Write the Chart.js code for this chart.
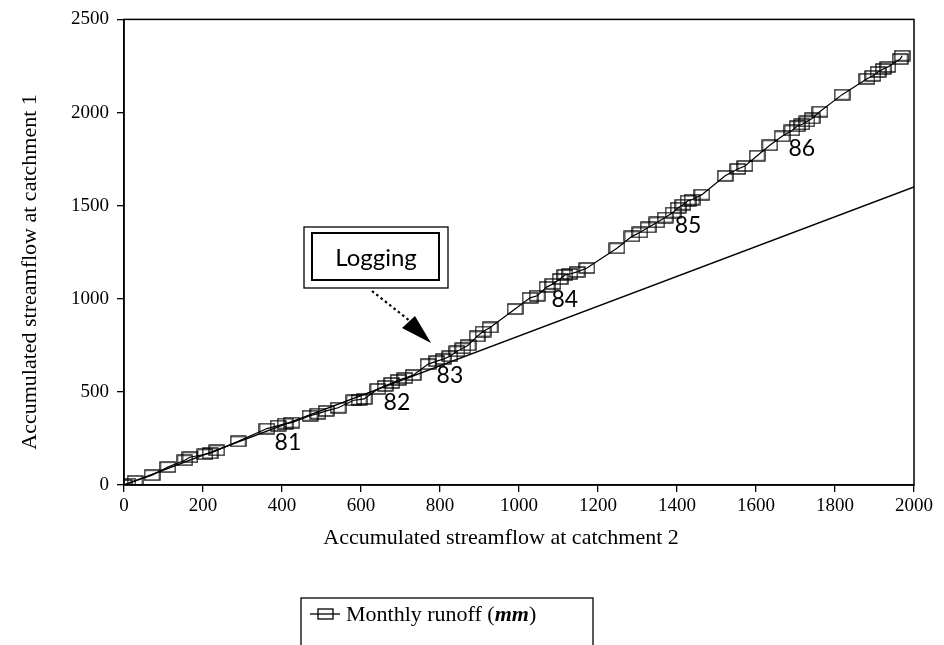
<!DOCTYPE html>
<html>
<head>
<meta charset="utf-8">
<script src="https://cdn.jsdelivr.net/npm/chart.js@4/dist/chart.umd.min.js"></script>
<style>
  html, body { margin: 0; padding: 0; background: #fff; }
  #wrap { width: 944px; height: 645px; }
</style>
</head>
<body>
<div id="wrap"><canvas id="massCurve"></canvas></div>
<script>
// accumulated monthly runoff, catchment 2 (x) vs catchment 1 (y), mm
const runoffX = [0, 10, 28, 71, 111, 154, 167, 205, 218, 235, 289, 362, 390, 408, 425, 471, 491, 512,
  542, 582, 595, 608, 643, 661, 678, 694, 711, 732, 770, 792, 808, 825, 843, 858, 871, 894, 909, 927,
  990, 1028, 1046, 1071, 1086, 1104, 1116, 1129, 1147, 1172, 1248, 1286, 1306, 1327, 1349, 1370, 1390,
  1403, 1415, 1428, 1438, 1463, 1522, 1554, 1572, 1603, 1635, 1666, 1691, 1704, 1716, 1729, 1742, 1762,
  1818, 1881, 1896, 1909, 1922, 1934, 1965, 1970];
const runoffY = [0, 8, 22, 53, 96, 133, 149, 165, 170, 186, 234, 303, 319, 330, 335, 372, 383, 398,
  415, 455, 458, 462, 516, 532, 548, 564, 574, 590, 649, 665, 676, 691, 718, 734, 750, 798, 824, 846,
  945, 1005, 1016, 1064, 1080, 1106, 1128, 1133, 1144, 1165, 1271, 1335, 1356, 1383, 1410, 1436, 1463,
  1489, 1505, 1527, 1532, 1559, 1660, 1697, 1713, 1768, 1824, 1872, 1904, 1926, 1936, 1952, 1968, 2005,
  2096, 2181, 2197, 2218, 2234, 2245, 2287, 2305];

// pre-logging relation
const lineX = [0, 2000];
const lineY = [0, 1600];

// year marks
const yearLabels = ['81', '82', '83', '84', '85', '86'];
const yearX = [415, 691, 825, 1116, 1428, 1716];
const yearY = [230, 440, 585, 995, 1394, 1809];

const xTicks = [0, 200, 400, 600, 800, 1000, 1200, 1400, 1600, 1800, 2000];
const yTicks = [0, 500, 1000, 1500, 2000, 2500];

const xTitle = 'Accumulated streamflow at catchment 2';
const yTitle = 'Accumulated streamflow at catchment 1';
const seriesName = 'Monthly runoff';

// hollow rectangle marker
const mark = document.createElement('canvas');
mark.width = 17;
mark.height = 12;
const mctx = mark.getContext('2d');
mctx.strokeStyle = '#000';
mctx.lineWidth = 1.3;
mctx.strokeRect(1, 1, 15, 10);

const serif = '"Liberation Serif", "DejaVu Serif", serif';
const sans = 'Lato, "Open Sans", sans-serif';

const extras = {
  id: 'extras',
  afterDraw(chart) {
    const ctx = chart.ctx;
    const a = chart.chartArea;
    const sx = chart.scales.x, sy = chart.scales.y;
    ctx.save();
    ctx.fillStyle = '#000';
    ctx.strokeStyle = '#000';

    // frame
    ctx.lineWidth = 1.5;
    ctx.strokeRect(a.left, a.top, a.right - a.left, a.bottom - a.top);

    // year labels
    ctx.font = '23px ' + sans;
    ctx.textAlign = 'center';
    ctx.textBaseline = 'middle';
    yearLabels.forEach((t, i) => {
      ctx.fillText(t, sx.getPixelForValue(yearX[i]), sy.getPixelForValue(yearY[i]));
    });

    // callout
    ctx.lineWidth = 1.3;
    ctx.strokeRect(304, 227, 144, 61);
    ctx.lineWidth = 2;
    ctx.strokeRect(312, 233, 127, 47);
    ctx.font = '24px ' + sans;
    ctx.fillText('Logging', 376, 258);

    // dotted arrow
    ctx.lineWidth = 2.2;
    ctx.setLineDash([2.5, 3]);
    ctx.beginPath();
    ctx.moveTo(372, 291);
    ctx.lineTo(410, 321);
    ctx.stroke();
    ctx.setLineDash([]);
    ctx.beginPath();
    ctx.moveTo(431, 343);
    ctx.lineTo(402, 328);
    ctx.lineTo(415, 316);
    ctx.closePath();
    ctx.fill();

    // axis titles
    ctx.font = '22px ' + serif;
    ctx.textBaseline = 'middle';
    ctx.fillText(xTitle, 501, 538);
    ctx.save();
    ctx.translate(30, 272);
    ctx.rotate(-Math.PI / 2);
    ctx.fillText(yTitle, 0, 0);
    ctx.restore();

    // legend
    ctx.lineWidth = 1.3;
    ctx.strokeRect(301, 598, 292, 80);
    const ly = 614;
    ctx.beginPath();
    ctx.moveTo(310, ly);
    ctx.lineTo(340, ly);
    ctx.stroke();
    ctx.drawImage(mark, 317, ly - 6);
    ctx.textAlign = 'left';
    ctx.font = '22px ' + serif;
    let tx = 346;
    const part1 = seriesName + ' (';
    ctx.fillText(part1, tx, ly + 1);
    tx += ctx.measureText(part1).width;
    ctx.font = 'italic bold 22px ' + serif;
    ctx.fillText('mm', tx, ly + 1);
    tx += ctx.measureText('mm').width;
    ctx.font = '22px ' + serif;
    ctx.fillText(')', tx, ly + 1);

    ctx.restore();
  }
};

new Chart(document.getElementById('massCurve'), {
  type: 'scatter',
  data: {
    datasets: [{
      label: seriesName,
      data: runoffX.map((x, i) => ({ x: x, y: runoffY[i] })),
      showLine: true,
      borderColor: '#000',
      borderWidth: 1.2,
      pointStyle: mark,
      pointRadius: 6,
      pointHoverRadius: 6,
      tension: 0
    }, {
      label: 'Before logging',
      data: lineX.map((x, i) => ({ x: x, y: lineY[i] })),
      showLine: true,
      borderColor: '#000',
      borderWidth: 1.4,
      pointRadius: 0,
      tension: 0
    }]
  },
  options: {
    responsive: true,
    maintainAspectRatio: false,
    animation: false,
    layout: { padding: { left: 0, top: 15, right: 30, bottom: 0 } },
    plugins: {
      legend: { display: false },
      tooltip: { enabled: false }
    },
    scales: {
      x: {
        type: 'linear',
        min: 0,
        max: 2000,
        afterBuildTicks: s => { s.ticks = xTicks.map(v => ({ value: v })); },
        afterFit: s => { s.height = 160; },
        ticks: { color: '#000', font: { family: serif, size: 19 }, padding: 3, maxRotation: 0, callback: v => String(v) },
        grid: { drawOnChartArea: false, color: '#000', tickLength: 7, lineWidth: 1.3 },
        border: { color: '#000', width: 1.5 }
      },
      y: {
        type: 'linear',
        min: 0,
        max: 2500,
        afterBuildTicks: s => { s.ticks = yTicks.map(v => ({ value: v })); },
        afterFit: s => { s.width = 124; },
        ticks: { color: '#000', font: { family: serif, size: 19 }, padding: 8, callback: v => String(v) },
        grid: { drawOnChartArea: false, color: '#000', tickLength: 7, lineWidth: 1.3 },
        border: { color: '#000', width: 1.5 }
      }
    }
  },
  plugins: [extras]
});
</script>
</body>
</html>
